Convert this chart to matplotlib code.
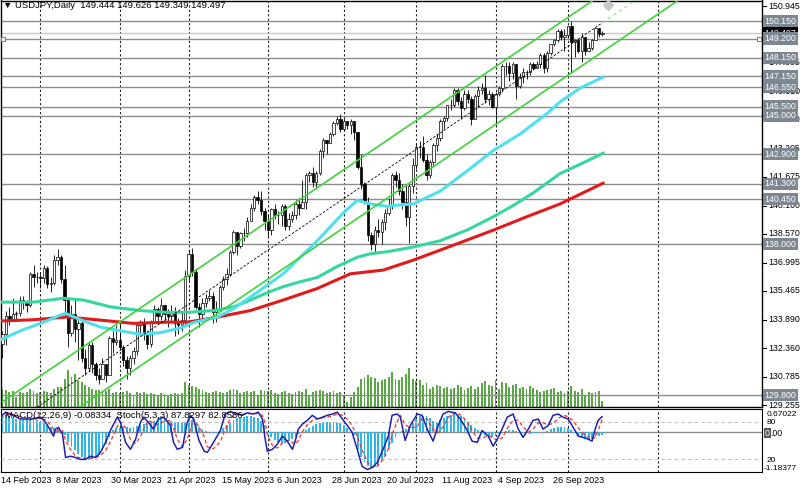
import matplotlib
matplotlib.use("Agg")
import matplotlib.pyplot as plt
from matplotlib.transforms import blended_transform_factory

# ---------------- data ----------------
first_open = 132.60
close = [133.15, 134.10, 133.90, 134.20, 134.25, 134.95, 134.90, 134.70, 136.40, 136.25, 136.20,
         136.15, 136.70, 135.85, 135.90, 137.15, 137.30, 136.10, 135.00, 133.20, 134.20,
         133.40, 133.70, 131.80, 131.30, 132.50, 131.50, 130.90, 130.70, 131.50, 130.90,
         132.90, 132.70, 132.80,
         132.40, 131.70, 131.30, 131.80, 132.20, 133.60, 133.70, 133.10, 132.60, 133.80,
         134.50, 134.10, 134.70, 134.20, 134.10, 134.30, 133.70, 133.60, 133.90, 136.30,
         137.50, 136.50, 134.60, 134.20, 134.80, 135.10, 135.20, 134.30, 134.50, 135.70,
         136.10, 136.40, 137.60, 138.70, 137.90, 138.60, 138.60, 139.30, 140.00, 140.60,
         140.40, 139.80, 139.30,
         138.80, 139.90, 139.60, 139.60, 140.10, 139.00, 139.40, 139.60, 140.20, 140.00,
         140.30, 141.80, 141.90, 141.40, 141.90, 143.10, 143.70, 143.50, 144.00, 144.60,
         144.80, 144.30,
         144.70, 144.50, 144.70, 144.10, 142.20, 141.30, 140.30, 138.50, 138.00, 138.80,
         138.70, 139.20, 139.70, 140.10, 141.80, 141.50, 140.90, 140.30, 139.50, 141.20,
         142.30,
         143.30, 143.30, 142.60, 141.80, 142.50, 143.40, 143.80, 144.70, 144.90, 145.60,
         145.60, 146.40, 145.80, 145.40, 146.20, 145.90, 144.80, 146.10, 146.40, 146.50,
         145.90, 146.20, 145.50,
         146.20, 146.50, 147.70, 147.70, 147.30, 147.80, 146.60, 147.10, 147.40, 147.40,
         147.80, 147.60, 147.80, 148.30, 147.60, 148.40, 148.90, 149.10, 149.60, 149.30,
         149.40,
         149.90, 149.00, 149.10, 148.50, 149.30, 148.50, 148.70, 149.10, 149.80, 149.444,
         149.497]
high = [133.30, 134.35, 134.60, 135.10, 134.40, 135.20, 135.20, 135.00, 136.50, 136.90, 136.50,
        136.50, 136.90, 136.80, 136.20, 137.40, 137.75, 137.40, 136.90, 135.10, 134.70,
        135.10, 133.90, 133.90, 132.30, 132.70, 132.70, 131.60, 131.30, 131.80, 131.50,
        133.00, 133.30, 133.60,
        133.70, 132.50, 131.90, 132.00, 132.40, 133.80, 133.90, 134.00, 133.30, 133.90,
        134.70, 134.60, 135.10, 134.70, 134.50, 134.70, 134.60, 134.00, 134.40, 136.60,
        137.70, 137.80, 136.70, 134.80, 135.10, 135.30, 135.50, 135.40, 134.90, 135.80,
        136.30, 136.70, 137.70, 138.80, 138.70, 138.70, 138.90, 139.50, 140.20, 140.70,
        140.90, 140.90, 140.00,
        139.60, 140.00, 140.20, 139.80, 140.20, 140.20, 139.70, 139.80, 140.40, 140.50,
        141.50, 141.90, 142.00, 142.20, 142.00, 143.20, 143.80, 143.70, 144.10, 144.70,
        145.00, 145.10,
        144.90, 144.70, 144.80, 144.60, 144.10, 142.90, 141.40, 140.60, 138.70, 139.00,
        139.40, 139.40, 139.90, 140.50, 141.90, 142.00, 141.90, 141.30, 141.30, 141.30,
        142.70,
        143.50, 143.60, 143.90, 142.90, 142.60, 143.50, 144.00, 144.80, 145.00, 145.60,
        145.90, 146.50, 146.50, 146.00, 146.40, 146.40, 146.10, 146.20, 146.60, 146.80,
        147.20, 146.40, 146.30,
        146.30, 146.60, 147.80, 147.90, 147.90, 147.90, 147.10, 147.30, 147.60, 147.50,
        147.90, 147.90, 148.00, 148.40, 148.40, 148.50, 148.90, 149.20, 149.70, 149.70,
        149.70,
        149.90, 150.16, 149.20, 149.20, 149.50, 149.10, 149.00, 149.20, 149.80, 149.80,
        149.626]
low = [131.80, 132.55, 133.60, 133.90, 133.90, 134.10, 134.50, 134.30, 134.60, 135.70, 135.90,
       135.60, 135.90, 135.60, 135.40, 135.80, 136.90, 135.90, 134.10, 132.40, 133.00,
       132.70, 131.70, 131.60, 130.90, 131.10, 131.00, 130.60, 130.40, 130.70, 130.50,
       130.90, 132.10, 132.50,
       132.30, 131.40, 130.70, 130.90, 131.50, 132.00, 133.10, 132.80, 132.30, 132.40,
       133.70, 133.80, 133.90, 133.80, 133.50, 133.80, 133.00, 133.10, 133.30, 133.60,
       136.00, 136.30, 134.50, 133.50, 133.80, 134.60, 134.90, 133.70, 133.80, 134.40,
       135.50, 135.80, 136.30, 137.50, 137.40, 137.80, 138.20, 138.40, 139.30, 139.80,
       140.20, 139.60, 138.80,
       138.40, 138.50, 139.40, 139.10, 139.00, 138.80, 138.80, 139.20, 139.40, 139.60,
       139.90, 139.90, 141.40, 141.10, 141.00, 141.80, 142.70, 142.90, 143.50, 143.90,
       144.50, 144.10,
       144.20, 144.30, 144.00, 143.70, 142.10, 141.00, 140.20, 138.20, 137.70, 137.60,
       138.40, 138.00, 138.80, 139.60, 139.90, 141.10, 140.70, 139.90, 139.00, 138.10,
       140.80,
       142.10, 142.70, 142.50, 141.50, 141.60, 142.30, 143.10, 143.60, 144.30, 144.70,
       145.30, 145.50, 145.60, 144.80, 145.30, 145.70, 144.50, 144.80, 145.50, 146.20,
       145.70, 145.60, 145.40,
       144.50, 146.10, 146.30, 147.20, 146.90, 147.00, 145.90, 146.50, 146.80, 147.00,
       147.20, 147.50, 147.60, 147.60, 147.30, 147.40, 148.30, 148.80, 149.00, 149.10,
       148.50,
       149.30, 147.30, 148.20, 148.40, 147.90, 148.30, 148.50, 148.60, 149.10, 149.30,
       149.349]
volume = [18, 17, 15, 16, 10, 15, 14, 15, 18, 16, 14,
          15, 16, 15, 14, 18, 20, 20, 28, 37, 30, 33, 27, 25, 22, 20, 18, 17, 17, 15, 16, 18, 14, 15,
          14, 15, 16, 14, 12, 15, 14, 15, 13, 14, 13, 12, 14, 13, 12, 13, 14, 13, 14, 25,
          22, 21, 20, 18, 17, 15, 14, 15, 16, 15, 14, 15, 17, 18, 17, 14, 15, 16, 15, 16, 12, 17, 16,
          16, 17, 14, 13, 15, 16, 14, 13, 15, 16, 15, 18, 12, 15, 16, 17, 16, 14, 15, 16, 14, 15,
          12, 5, 10, 15, 20, 28, 30, 32, 30, 29, 25, 27, 28, 30, 35, 28, 27, 30, 33, 39, 28,
          26, 27, 22, 24, 18, 20, 22, 21, 19, 20, 18, 19, 22, 20, 17, 19, 21, 18, 20, 24, 26, 22, 21,
          27, 18, 25, 24, 20, 22, 23, 19, 20, 18, 21, 19, 17, 15, 16, 17, 18, 19, 15, 16, 14,
          16, 21, 16, 15, 18, 12, 15, 14, 15, 16, 6]
macd = [0.45, 0.48, 0.45, 0.40, 0.38, 0.36, 0.35, 0.37, 0.36, 0.38, 0.35, 0.30, 0.25, 0.20, 0.15,
        0.12, 0.08, 0.03,
        -0.10, -0.30, -0.45, -0.55, -0.65, -0.75, -0.80, -0.82, -0.80, -0.75, -0.68, -0.55, -0.35, -0.15,
        0.05, 0.10, 0.12, 0.15, 0.13, 0.12, 0.15, 0.18, 0.20, 0.22, 0.25, 0.30, 0.33, 0.35, 0.38,
        0.37, 0.36, 0.33, 0.30, 0.28, 0.27,
        0.30, 0.38, 0.35, 0.25, 0.15, 0.08,
        0.02, -0.02, -0.05, -0.03, 0.03,
        0.12, 0.20, 0.28, 0.35, 0.40, 0.42, 0.44, 0.45, 0.45, 0.44, 0.40, 0.32, 0.20,
        -0.05, -0.15, -0.25, -0.30, -0.33, -0.32, -0.28, -0.22, -0.15, -0.08, -0.02,
        0.05, 0.12, 0.18, 0.22, 0.26, 0.28, 0.30, 0.30, 0.30, 0.28, 0.25, 0.20,
        0.10, 0.00,
        -0.10, -0.50, -0.75, -0.90, -1.02, -1.08, -1.05, -1.00, -0.85, -0.70, -0.50, -0.33, -0.15, -0.05,
        0.03, 0.08, 0.15,
        0.25, 0.38, 0.45, 0.47, 0.45, 0.40, 0.33, 0.30,
        0.35, 0.42, 0.46, 0.50, 0.52, 0.50, 0.45, 0.38,
        0.30, 0.20, 0.12, 0.05,
        -0.05, -0.10, -0.13, -0.15, -0.12, -0.08,
        -0.02, 0.02, 0.04, 0.05, 0.03, 0.00,
        -0.03, -0.05, -0.06, -0.05, -0.03, -0.02, 0.00, 0.03,
        0.08, 0.12, 0.15, 0.15, 0.14, 0.12,
        0.05, -0.05, -0.12, -0.18, -0.20, -0.22, -0.20, -0.15, -0.12, -0.08334]

# stochastic (5,3,3): main and signal, sampled along the bars
stoch_x = [-0.6, 0.9, 2.3, 5.2, 8.1, 11, 12.5, 13.9, 14.8, 15.4, 16.2, 17.4, 18.3, 19.7, 21.2,
           22.6, 24, 25.5, 27, 28.4, 29.9, 31.3, 32.8, 33.3, 34.2, 35.7, 37.1, 38.6, 40, 40.9,
           42.3, 43.8, 45.2, 46.7, 48.7, 49.6, 50.7, 52.2, 53.6, 54.5, 55.4, 57, 58.5, 59.4, 61.2,
           63.2, 64.6, 66.1, 68.1, 69.6, 71, 72.8, 74.2, 75.4, 76.2, 76.8, 78.3, 79.7, 81.2, 82.6,
           84.1, 84.9, 85.8, 87, 88.4, 89.9, 91.3, 92.8, 94.2, 95.7, 97.1, 98.6, 100, 101.4, 102.9,
           104.3, 105.8, 107.2, 108.7, 110.4, 111.9, 113, 114.5, 115.4, 116.8, 118.3, 120.3, 121.7,
           123.2, 124.9, 126.4, 127.8, 129.3, 131.3, 132.8, 134.8, 136.2, 137.7, 139.1, 140.9,
           142.3, 143.5, 144.9, 146.4, 148.1, 149.6, 151, 152.5, 153.9, 155.4, 156.8, 158.3,
           159.7, 161.2, 162.6, 164.1, 165.5, 167, 168.4, 169.9, 171, 171.9, 172.8, 173.9]
stoch_main = [87, 95, 92, 84, 84, 87, 79, 66, 57, 68, 71, 60, 23, 25, 23,
              20, 20, 25, 23, 31, 47, 66, 82, 87, 79, 47, 36, 52, 79, 87,
              79, 68, 84, 87, 74, 47, 36, 39, 79, 90, 84, 50, 33, 31, 47,
              66, 92, 96, 92, 90, 94, 92, 95, 84, 52, 33, 36, 44, 57, 49,
              36, 49, 68, 76, 82, 90, 84, 87, 90, 92, 95, 84, 74, 63, 36,
              9, 4, 7, 15, 36, 57, 90, 92, 87, 50, 74, 92, 90,
              68, 49, 74, 92, 96, 94, 84, 66, 49, 47, 66, 57,
              41, 52, 68, 87, 92, 68, 55, 68, 82, 84, 68, 74,
              90, 92, 87, 84, 71, 57, 55, 52, 49, 68, 82, 87.83]
stoch_signal = [85, 90, 92, 88, 84, 85, 83, 75, 68, 65, 65, 66, 50, 36, 25,
                22, 21, 22, 23, 26, 34, 48, 65, 72, 80, 70, 52, 45, 56, 68,
                82, 78, 75, 80, 82, 70, 52, 40, 52, 68, 84, 72, 56, 40, 37,
                48, 68, 85, 93, 92, 92, 93, 93, 90, 78, 60, 42, 38, 46, 50,
                47, 44, 50, 64, 75, 82, 85, 86, 87, 89, 92, 90, 84, 74, 56,
                35, 16, 7, 9, 20, 36, 60, 80, 90, 75, 70, 72, 85,
                84, 68, 62, 72, 87, 94, 91, 80, 66, 54, 54, 58,
                54, 50, 54, 69, 82, 82, 72, 63, 68, 78, 78, 75,
                77, 85, 90, 88, 81, 70, 61, 55, 52, 55, 66, 82.86]

# moving averages (cyan, teal, red) sampled along the bars
ma_fast_x = [-0.6, 5.2, 11, 16.8, 18.3, 22.6, 28.4, 34.2, 40, 45.8, 51.6, 55.4, 62.3, 67, 71.9,
             81.4, 91.3, 98.8, 102.9, 106.7, 111.6, 115.4, 119.1, 127, 134.8, 142.3, 150.1,
             158, 161.7, 167.5, 174.2]
ma_fast = [132.8, 133.3, 133.7, 134.15, 134.25, 133.9, 133.5, 133.3, 133.1, 133.2, 133.45, 133.75,
           134.05, 134.5, 135.13, 136.4, 138.2, 139.7, 140.4, 140.2, 140.07, 140.15, 140.2, 140.9,
           142.0, 143.1, 144.0, 145.13, 145.75, 146.5, 147.1]
ma_mid_x = [-0.6, 9, 17.7, 23.5, 31.3, 40, 47.8, 53.6, 61.2, 67, 71.9, 76.5, 81.4, 86, 91.3, 97.1,
            102.9, 107, 111.6, 119, 127, 135, 142.3, 148, 153.9, 161.7, 168, 174.2]
ma_mid = [134.86, 134.86, 135.07, 134.97, 134.6, 134.4, 134.3, 134.3, 134.4, 134.6, 134.97,
          135.35, 135.7, 135.95, 136.2, 136.8, 137.3, 137.5, 137.6, 137.85, 138.2, 138.8, 139.5,
          140.1, 140.8, 141.85, 142.4, 142.96]
ma_slow_x = [-0.6, 9, 18.8, 28.4, 38, 47.8, 53.6, 61.2, 71.9, 81.4, 91.3, 100.9, 110.4, 119.1,
             130, 142.3, 152, 161.7, 174.2]
ma_slow = [133.83, 133.9, 134.05, 133.88, 133.7, 133.77, 133.77, 134.0, 134.4, 134.97, 135.6,
           136.4, 136.6, 137.14, 137.9, 138.77, 139.5, 140.2, 141.33]

# trend channel anchors (bar index, price)
chan_x = [0, 220]
chan_upper = [129.44, 157.49]
chan_lower = [126.29, 154.34]
mid_x = [0, 174, 220]
chan_midline = [127.87, 150.06, 155.92]

levels = [150.15, 149.2, 148.15, 147.15, 146.55, 145.5, 145.0, 142.9, 141.3, 140.45, 138.0, 129.8]
level_labels = ["150.150", "149.200", "148.150", "147.150", "146.550", "145.500", "145.000",
                "142.900", "141.300", "140.450", "138.000", "129.800"]
last_price = 149.497
price_ticks = [150.945, 147.885, 146.310, 144.780, 143.205, 141.675, 140.100, 138.570,
               136.995, 135.465, 133.890, 132.360, 130.785, 129.255]
month_lines = [11, 34, 54, 77, 99, 120, 143, 164, 190]
date_idx = [0, 16, 32, 48, 64, 80, 96, 112, 128, 144, 160]
date_labels = ["14 Feb 2023", "8 Mar 2023", "30 Mar 2023", "21 Apr 2023", "15 May 2023",
               "6 Jun 2023", "28 Jun 2023", "20 Jul 2023", "11 Aug 2023", "4 Sep 2023",
               "26 Sep 2023"]

# ---------------- figure ----------------
W, H = 800, 491
plt.rcParams['font.family'] = ['Liberation Sans', 'DejaVu Sans']
fig = plt.figure(figsize=(W / 100, H / 100), dpi=100)


def px_box(l, t, r, b):
    return [l / W, 1 - b / H, (r - l) / W, (b - t) / H]


ax = fig.add_axes(px_box(0.5, 0.5, 762, 407))
axi = fig.add_axes(px_box(0.5, 409, 762, 472))
xlim = (-0.58, 220.3)

# volumes behind the price chart
axv = ax.twinx()
axv.set_ylim(0, 407)
axv.axis('off')
axv.bar(range(len(volume)), volume, width=0.55, color='#5aa845', zorder=1)
ax.set_zorder(axv.get_zorder() + 1)
ax.patch.set_visible(False)

ax.set_xlim(*xlim)
ax.set_ylim(129.152, 151.271)
ax.set_xticks([])
ax.set_yticks([])

for m in month_lines:
    ax.axvline(m, color='#222222', lw=0.8, ls=(0, (2, 2)), zorder=1)

for lv in levels:
    ax.axhline(lv, color='#8c8c8c', lw=1.0, zorder=2)
ax.axhline(last_price, color='#c8c8c8', lw=1.0, zorder=2)

# candles
opens = [first_open] + close[:-1]
opens[-1] = 149.444
for i, (o, h, l, c) in enumerate(zip(opens, high, low, close)):
    ax.vlines(i, min(l, o, c), max(h, o, c), color='black', lw=0.6, zorder=3)
    fc = 'white' if c >= o else 'black'
    ax.bar(i, abs(c - o), bottom=min(o, c), width=0.68, color=fc, edgecolor='black',
           lw=0.5, zorder=3.5)

# moving averages
ax.plot(ma_slow_x, ma_slow, color='#e21a1a', lw=2.2, zorder=4)
ax.plot(ma_mid_x, ma_mid, color='#36d6a0', lw=2.2, zorder=4)
ax.plot(ma_fast_x, ma_fast, color='#4fe0f0', lw=2.2, zorder=4)

# channel
ax.plot(chan_x, chan_upper, color='#3fd23a', lw=1.2, zorder=5)
ax.plot(chan_x, chan_lower, color='#3fd23a', lw=1.2, zorder=5)
ax.plot(mid_x[:2], chan_midline[:2], color='black', lw=0.6, ls=(0, (3, 2)), zorder=5)
ax.plot(mid_x[1:], chan_midline[1:], color='#8fe08a', lw=0.8, ls=(0, (3, 3)), zorder=5)
ax.plot([175.7], [151.05], marker='D', ms=5, color='#c8c8c8', zorder=6, clip_on=False)
ax.plot([0.1, 219.4], [149.2, 149.2], ls='none', marker='s', ms=3, mfc='white', mec='#777777',
        mew=0.7, zorder=6)

for sp in ax.spines.values():
    sp.set_color('black')
    sp.set_linewidth(1)

# right price scale
tr = blended_transform_factory(ax.transAxes, ax.transData)
for p in price_ticks:
    ax.plot([1.0, 1.005], [p, p], transform=tr, color='black', lw=0.8, clip_on=False)
    ax.text(1.008, p, f"{p:.3f}", transform=tr, fontsize=6.3, va='center', ha='left',
            clip_on=False)
ax.text(1.003, last_price, f"{last_price:.3f}", transform=tr, fontsize=6.3, va='center',
        ha='left', color='white', zorder=7,
        bbox=dict(boxstyle='square,pad=0.18', fc='black', ec='none'))
for lv, lab in zip(levels, level_labels):
    ax.text(1.003, lv, lab, transform=tr, fontsize=6.3, va='center', ha='left', color='white',
            zorder=8, bbox=dict(boxstyle='square,pad=0.18', fc='#7c8791', ec='none'))

fig.text(3 / W, 1 - 6 / H, "\u25bc USDJPY,Daily  149.444 149.626 149.349 149.497",
         fontsize=6.8, va='center', ha='left')

# ---------------- indicator panel ----------------
axi.set_xlim(*xlim)
axi.set_ylim(-1.18377, 0.67022)
axi.set_xticks([])
axi.set_yticks([])
axi.bar(range(len(macd)), macd, width=0.55, color='#2db6ea', zorder=2)
axi.axhline(0, color='#8c8c8c', lw=1.0, zorder=1)
for m in month_lines:
    axi.axvline(m, color='#222222', lw=0.8, ls=(0, (2, 2)), zorder=1)

axs = axi.twinx()
axs.set_ylim(0, 100)
axs.axis('off')
axs.axhline(80, color='#bdbdbd', lw=0.8, ls=(0, (3, 3)))
axs.axhline(20, color='#bdbdbd', lw=0.8, ls=(0, (3, 3)))
axs.plot(stoch_x, stoch_signal, color='#e53935', lw=0.9, ls=(0, (3, 2)))
axs.plot(stoch_x, stoch_main, color='#2020b0', lw=1.1)

fig.text(5 / W, 1 - 415 / H, "MACD(12,26,9) -0.08334  Stoch(5,3,3) 87.8297 82.8586",
         fontsize=6.8, va='center', ha='left')
for txt, xx, yy in [("0.67022", 767, 415), ("80", 767, 423), ("20", 767, 460),
                    ("-1.18377", 764, 468)]:
    fig.text(xx / W, 1 - yy / H, txt, fontsize=6.0, va='center', ha='left')
fig.text(765 / W, 1 - 433 / H, "0", fontsize=6.3, va='center', ha='left', color='white',
         bbox=dict(boxstyle='square,pad=0.1', fc='#555555', ec='none'))
fig.text(770 / W, 1 - 433 / H, ".00", fontsize=6.3, va='center', ha='left')

# dates
trd = blended_transform_factory(axi.transData, axi.transAxes)
for i, lab in zip(date_idx, date_labels):
    axi.text(i - 0.4, -0.13, lab, transform=trd, fontsize=6.5, va='center', ha='left',
             clip_on=False)

fig.savefig("out.png", dpi=100)
